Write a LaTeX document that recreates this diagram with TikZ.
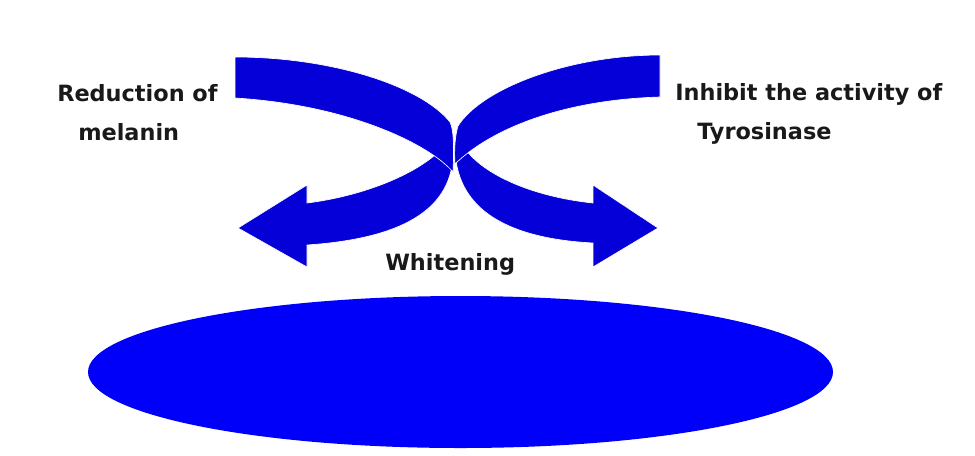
\documentclass[tikz,border=0pt]{standalone}
\usepackage{fontspec}
\setmainfont{DejaVu Sans}
\usepackage{tikz}
\usetikzlibrary{positioning,shapes.geometric}

\definecolor{bandblue}{RGB}{5,0,215}
\definecolor{diskblue}{RGB}{0,0,250}

\tikzset{
    band/.style={fill=bandblue, draw=white, line width=0.5pt},
    label/.style={anchor=base west, inner sep=0pt, text=black!90, font=\fontsize{16.8}{20}\selectfont\bfseries}
}

\begin{document}
\begin{tikzpicture}[x=0.75pt, y=-0.75pt]

	% \draw[help lines, step=50,gray!20] (0,0) grid (975,455);
	\useasboundingbox (0,0) rectangle (975,455);

	% lower parts with the arrow heads
	\filldraw[band] (453,146) .. controls (456,205) and (410,238) .. (307,245)
	    -- (307,267) -- (238,228) -- (307,185) -- (307,203)
	    .. controls (370,195) and (425,170) .. (446,144) -- cycle;

	\filldraw[band] (455,146) .. controls (455,205) and (500,238) .. (593,243)
	    -- (593,267) -- (658,228) -- (593,185) -- (593,203)
	    .. controls (535,197) and (480,175) .. (462,144) -- cycle;

	% upper parts of the two bands
	\filldraw[band] (235,57) .. controls (330,57) and (420,85) .. (450,122)
	    .. controls (454,130) and (454,150) .. (453,172)
	    .. controls (430,145) and (350,105) .. (235,98) -- cycle;

	\filldraw[band] (660,55) .. controls (570,55) and (482,88) .. (458,126)
	    .. controls (455,136) and (454,150) .. (455,164)
	    .. controls (490,130) and (560,100) .. (660,97) -- cycle;

	\node[fill=diskblue,
	ellipse,
	inner sep=0pt,
	minimum width=745*0.75pt,
	minimum height=152*0.75pt] (DISK) at (460.5,372) {};

	\node[label] (R1) at (57,101) {Reduction of};
	\node[label] (R2) at (78,140) {melanin};

	\node[label] (I1) at (675,100) {Inhibit the activity of};
	\node[label] (I2) at (697,139) {Tyrosinase};

	\node[label] (W) at (385,270) {Whitening};

\end{tikzpicture}
\end{document}
